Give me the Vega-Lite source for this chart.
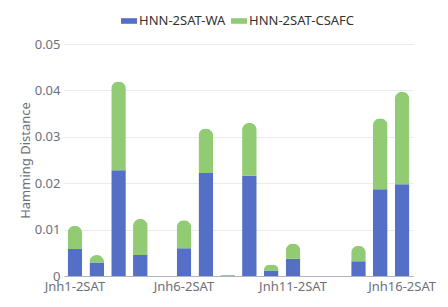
{
  "$schema": "https://vega.github.io/schema/vega-lite/v6.json",
  "autosize": {"type": "none"},
  "padding": {"left": 64, "top": 44, "right": 35, "bottom": 31},
  "width": 349,
  "height": 232,
  "background": "white",
  "config": {
    "view": {"stroke": null},
    "font": "Noto Sans"
  },
  "data": {
    "values": [
      {"instance": "Jnh1-2SAT", "series": "HNN-2SAT-WA", "value": 0.0058},
      {"instance": "Jnh1-2SAT", "series": "HNN-2SAT-CSAFC", "value": 0.0050},
      {"instance": "Jnh2-2SAT", "series": "HNN-2SAT-WA", "value": 0.0029},
      {"instance": "Jnh2-2SAT", "series": "HNN-2SAT-CSAFC", "value": 0.0016},
      {"instance": "Jnh3-2SAT", "series": "HNN-2SAT-WA", "value": 0.0228},
      {"instance": "Jnh3-2SAT", "series": "HNN-2SAT-CSAFC", "value": 0.0191},
      {"instance": "Jnh4-2SAT", "series": "HNN-2SAT-WA", "value": 0.0045},
      {"instance": "Jnh4-2SAT", "series": "HNN-2SAT-CSAFC", "value": 0.0078},
      {"instance": "Jnh6-2SAT", "series": "HNN-2SAT-WA", "value": 0.0060},
      {"instance": "Jnh6-2SAT", "series": "HNN-2SAT-CSAFC", "value": 0.0060},
      {"instance": "Jnh7-2SAT", "series": "HNN-2SAT-WA", "value": 0.0222},
      {"instance": "Jnh7-2SAT", "series": "HNN-2SAT-CSAFC", "value": 0.0096},
      {"instance": "Jnh8-2SAT", "series": "HNN-2SAT-WA", "value": 0.0001},
      {"instance": "Jnh8-2SAT", "series": "HNN-2SAT-CSAFC", "value": 0.0001},
      {"instance": "Jnh9-2SAT", "series": "HNN-2SAT-WA", "value": 0.0216},
      {"instance": "Jnh9-2SAT", "series": "HNN-2SAT-CSAFC", "value": 0.0114},
      {"instance": "Jnh10-2SAT", "series": "HNN-2SAT-WA", "value": 0.0012},
      {"instance": "Jnh10-2SAT", "series": "HNN-2SAT-CSAFC", "value": 0.0013},
      {"instance": "Jnh11-2SAT", "series": "HNN-2SAT-WA", "value": 0.0037},
      {"instance": "Jnh11-2SAT", "series": "HNN-2SAT-CSAFC", "value": 0.0033},
      {"instance": "Jnh14-2SAT", "series": "HNN-2SAT-WA", "value": 0.0032},
      {"instance": "Jnh14-2SAT", "series": "HNN-2SAT-CSAFC", "value": 0.0033},
      {"instance": "Jnh15-2SAT", "series": "HNN-2SAT-WA", "value": 0.0187},
      {"instance": "Jnh15-2SAT", "series": "HNN-2SAT-CSAFC", "value": 0.0153},
      {"instance": "Jnh16-2SAT", "series": "HNN-2SAT-WA", "value": 0.0198},
      {"instance": "Jnh16-2SAT", "series": "HNN-2SAT-CSAFC", "value": 0.0199}
    ]
  },
  "mark": {"type": "bar", "cornerRadiusTopLeft": 7.3, "cornerRadiusTopRight": 7.3},
  "encoding": {
    "x": {
      "field": "instance",
      "type": "nominal",
      "scale": {
        "domain": ["Jnh1-2SAT","Jnh2-2SAT","Jnh3-2SAT","Jnh4-2SAT","Jnh5-2SAT","Jnh6-2SAT","Jnh7-2SAT","Jnh8-2SAT","Jnh9-2SAT","Jnh10-2SAT","Jnh11-2SAT","Jnh12-2SAT","Jnh13-2SAT","Jnh14-2SAT","Jnh15-2SAT","Jnh16-2SAT"],
        "paddingInner": 0.33,
        "paddingOuter": 0.165
      },
      "axis": {
        "title": null,
        "values": ["Jnh1-2SAT","Jnh6-2SAT","Jnh11-2SAT","Jnh16-2SAT"],
        "labelAngle": 0,
        "labelFontSize": 13,
        "labelColor": "#6e7079",
        "labelPadding": 4,
        "ticks": false,
        "domainColor": "#b0b4c0",
        "grid": false
      }
    },
    "y": {
      "field": "value",
      "type": "quantitative",
      "stack": "zero",
      "scale": {"domain": [0, 0.05], "nice": false},
      "axis": {
        "title": "Hamming Distance",
        "titleFontSize": 13,
        "titleFontWeight": "normal",
        "titleColor": "#6e7079",
        "titlePadding": 2,
        "values": [0, 0.01, 0.02, 0.03, 0.04, 0.05],
        "format": ".2~f",
        "labelFontSize": 13,
        "labelColor": "#6e7079",
        "labelPadding": 4,
        "ticks": false,
        "domain": false,
        "gridColor": "#e8ebf2"
      }
    },
    "color": {
      "field": "series",
      "type": "nominal",
      "scale": {"domain": ["HNN-2SAT-WA", "HNN-2SAT-CSAFC"], "range": ["#5470c6", "#91cc75"]},
      "legend": {
        "title": null,
        "orient": "none",
        "direction": "horizontal",
        "legendX": 57,
        "legendY": -31,
        "padding": 0,
        "symbolType": "M-1,-0.35h2v0.7h-2z",
        "symbolSize": 256,
        "symbolStrokeWidth": 0,
        "labelFontSize": 13,
        "labelColor": "#333333",
        "labelOffset": 2,
        "columnPadding": 5
      }
    },
    "order": {"field": "series", "sort": "descending"}
  }
}
